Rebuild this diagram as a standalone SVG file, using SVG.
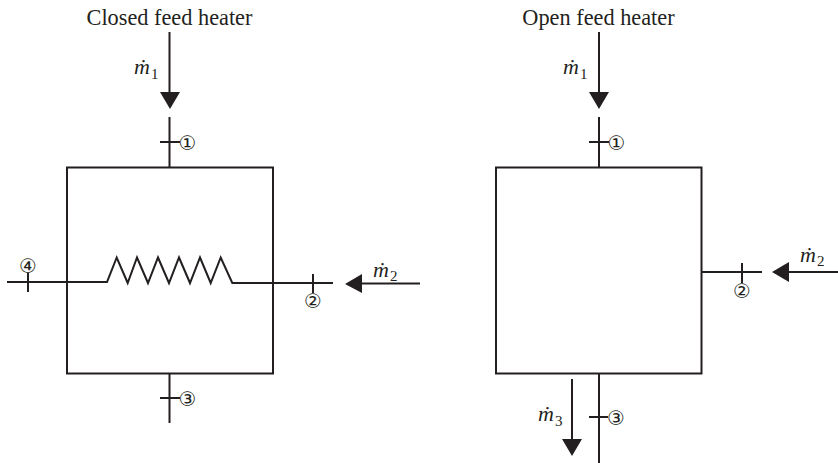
<svg xmlns="http://www.w3.org/2000/svg" width="838" height="463" viewBox="0 0 838 463">
<style>
.l{fill:none;stroke:#231f20;stroke-width:2}
.h{fill:#231f20;stroke:none}
.t{font-family:"Liberation Serif",serif;font-size:22.300px;fill:#231f20;text-anchor:middle}
.m{font-family:"Liberation Serif",serif;font-size:22px;font-style:italic;fill:#231f20}
.s{font-style:normal;font-size:15px}
.c{font-family:"DejaVu Sans",sans-serif;font-size:20px;fill:#231f20;text-anchor:middle}
</style>
<rect width="838" height="463" fill="#fff"/>
<g id="closed-heater">
<text class="t" x="169.500" y="25">Closed feed heater</text>
<rect class="l" x="67" y="167.500" width="206" height="206"/>
<polyline class="l" points="98,282 107,282 116.700,257.500 127.700,283 137,257.500 148,283 158,257.500 169,283 179,257.500 190,283 200,257.500 210.700,283 220.700,257.500 232.300,283 242,283"/>
</g>
<g id="open-heater">
<text class="t" x="598.500" y="25">Open feed heater</text>
<rect class="l" x="496" y="167.500" width="205.500" height="206"/>
</g>
<g id="connectors">
<path class="l" d="M169.500 32V93M169.500 117V167M160 142H180M169.500 374V423M160 398H180M7 282H98M28 273V292M242 283H333M313 274V293M362 283.500H420"/>
<path class="h" d="M160 92H180L170 109ZM345 284L362 274V293Z"/>
<path class="l" d="M599 32V93M599 117V167M589 142H609M599 374V463M589 417H608M702 272H762M742 263V283M789 272H838M572 379V440"/>
<path class="h" d="M589 92H609L599 109ZM772 272L789 262V282ZM562 439H582L572 456Z"/>
</g>
<g id="labels">
<text class="m" x="134" y="74">ṁ<tspan class="s" dx="1" dy="5">1</tspan></text>
<text class="m" x="563" y="74">ṁ<tspan class="s" dx="1" dy="5">1</tspan></text>
<text class="m" x="373" y="277">ṁ<tspan class="s" dx="1" dy="4">2</tspan></text>
<text class="m" x="800" y="262">ṁ<tspan class="s" dx="1" dy="4">2</tspan></text>
<text class="m" x="538" y="421">ṁ<tspan class="s" dx="1" dy="5">3</tspan></text>
<text class="c" x="187.500" y="149.500">①</text>
<text class="c" x="616.500" y="149.500">①</text>
<text class="c" x="187.500" y="405.500">③</text>
<text class="c" x="616" y="424.500">③</text>
<text class="c" x="28" y="272.500">④</text>
<text class="c" x="313" y="308">②</text>
<text class="c" x="742" y="297.500">②</text>
</g>
</svg>
